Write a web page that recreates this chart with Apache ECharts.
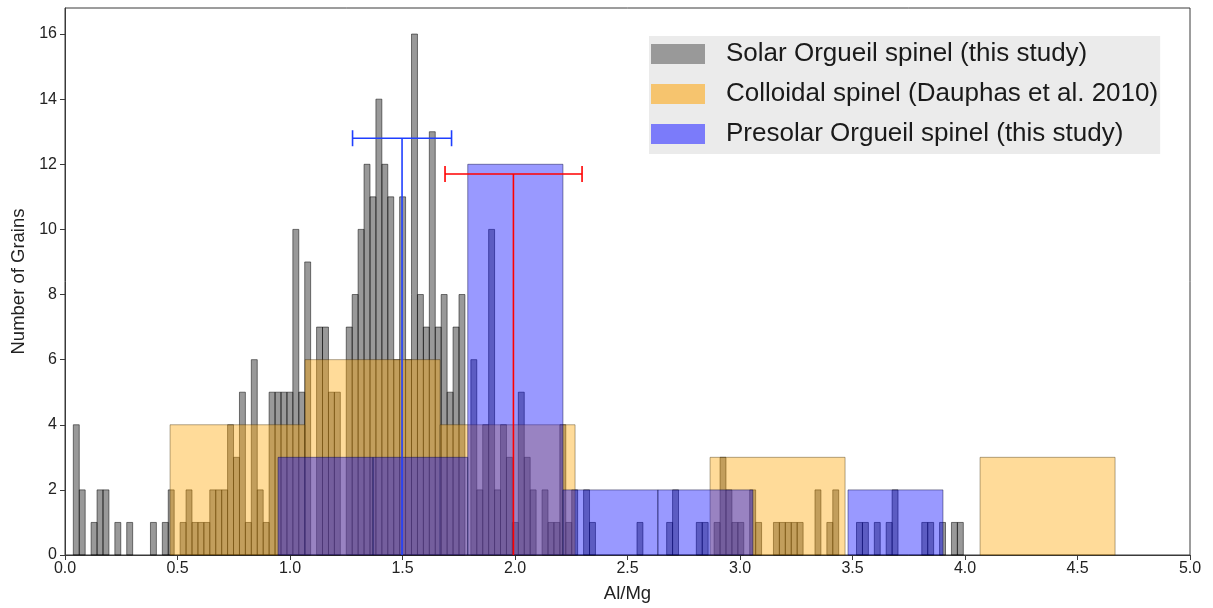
<!DOCTYPE html>
<html>
<head>
<meta charset="utf-8">
<script src="https://cdn.jsdelivr.net/npm/echarts@6/dist/echarts.min.js"></script>
<style>
  html, body { margin: 0; padding: 0; background: #fff; }
  #chart { width: 1213px; height: 608px; }
</style>
</head>
<body>
<div id="chart"></div>
<script>
// solar grains: 150 narrow bins
var grayStart = 0.037;
var grayBinWidth = 0.02637;
var grayCounts = [
  4,2,0,1,2,2,0,1,0,1,
  0,0,0,1,0,1,2,0,1,2,
  1,1,1,2,2,2,4,3,5,1,
  6,2,1,5,5,5,5,10,5,9,
  0,7,7,5,5,0,7,8,10,12,
  11,14,12,11,6,11,6,16,8,7,
  13,7,8,5,7,8,0,6,2,4,
  10,2,4,3,1,5,3,2,0,2,
  1,1,4,1,2,0,2,1,0,0,
  0,0,0,0,0,1,0,0,0,0,
  1,2,0,0,0,1,1,0,1,3,
  2,1,1,0,2,1,0,0,1,1,
  1,1,1,0,0,2,0,1,2,0,
  0,0,1,1,0,1,0,1,2,0,
  0,0,0,1,1,0,1,0,1,1
];

// colloidal spinel (Dauphas et al. 2010)
var orangeEdges = [0.467, 1.067, 1.667, 2.267, 2.867, 3.467, 4.067, 4.667];
var orangeCounts = [4, 6, 4, 0, 3, 0, 3];

// presolar grains
var blueEdges = [0.947, 1.369, 1.79, 2.213, 2.635, 3.057, 3.48, 3.902];
var blueCounts = [3, 3, 12, 2, 2, 0, 2];

// error bars: [mean, low, high, height]
var blueErr = [1.498, 1.278, 1.718, 12.8];
var redErr = [1.993, 1.689, 2.298, 11.7];

var seriesNames = ['Solar Orgueil spinel (this study)', 'Colloidal spinel (Dauphas et al. 2010)', 'Presolar Orgueil spinel (this study)'];

var grayData = [];
for (var i = 0; i < grayCounts.length; i++) {
  if (grayCounts[i] > 0) {
    var a = grayStart + i * grayBinWidth;
    grayData.push([a, a + grayBinWidth, grayCounts[i]]);
  }
}
function fromEdges(edges, counts) {
  var out = [];
  for (var i = 0; i < counts.length; i++) {
    if (counts[i] > 0) out.push([edges[i], edges[i + 1], counts[i]]);
  }
  return out;
}
var orangeData = fromEdges(orangeEdges, orangeCounts);
var blueData = fromEdges(blueEdges, blueCounts);

function binRenderer(fill, stroke) {
  return function (params, api) {
    var p0 = api.coord([api.value(0), api.value(2)]);
    var p1 = api.coord([api.value(1), 0]);
    return {
      type: 'rect',
      shape: { x: p0[0], y: p0[1], width: p1[0] - p0[0], height: p1[1] - p0[1] },
      style: { fill: fill, stroke: stroke, lineWidth: 1 }
    };
  };
}

function errRenderer(color) {
  return function (params, api) {
    var base = api.coord([api.value(0), 0]);
    var top = api.coord([api.value(0), api.value(3)]);
    var lo = api.coord([api.value(1), api.value(3)]);
    var hi = api.coord([api.value(2), api.value(3)]);
    var st = { stroke: color, lineWidth: 1.6 };
    return {
      type: 'group',
      children: [
        { type: 'line', shape: { x1: base[0], y1: base[1], x2: top[0], y2: top[1] }, style: st },
        { type: 'line', shape: { x1: lo[0], y1: lo[1], x2: hi[0], y2: hi[1] }, style: st },
        { type: 'line', shape: { x1: lo[0], y1: lo[1] - 8, x2: lo[0], y2: lo[1] + 8 }, style: st },
        { type: 'line', shape: { x1: hi[0], y1: hi[1] - 8, x2: hi[0], y2: hi[1] + 8 }, style: st }
      ]
    };
  };
}

var chart = echarts.init(document.getElementById('chart'));
var font = "'Liberation Sans', Arial, sans-serif";
var option = {
  animation: false,
  textStyle: { fontFamily: font },
  grid: {
    left: 65, right: 23, top: 8, bottom: 51,
    show: true, borderColor: '#3a3a3a', borderWidth: 1
  },
  legend: {
    orient: 'vertical',
    left: 649, top: 36,
    backgroundColor: '#ebebeb',
    padding: [5, 2, 7, 2],
    itemWidth: 54, itemHeight: 20, itemGap: 14,
    textStyle: { fontSize: 26, lineHeight: 22, color: '#1a1a1a', fontFamily: font, padding: [0, 0, 0, 16] },
    data: [
      { name: seriesNames[0], icon: 'rect', itemStyle: { color: '#999999', borderWidth: 0 } },
      { name: seriesNames[1], icon: 'rect', itemStyle: { color: '#f6c46e', borderWidth: 0 } },
      { name: seriesNames[2], icon: 'rect', itemStyle: { color: '#7b7bfa', borderWidth: 0 } }
    ]
  },
  xAxis: {
    type: 'value', min: 0, max: 5, interval: 0.5,
    name: 'Al/Mg', nameLocation: 'middle', nameGap: 29,
    nameTextStyle: { fontSize: 18.5, color: '#222' },
    axisLine: { show: true, lineStyle: { color: '#3a3a3a' } },
    axisTick: { show: true, length: 5, lineStyle: { color: '#3a3a3a' } },
    axisLabel: { fontSize: 16, color: '#222', margin: 6, formatter: function (v) { return v.toFixed(1); } },
    splitLine: { show: false }
  },
  yAxis: {
    type: 'value', min: 0, max: 16.8, interval: 2,
    name: 'Number of Grains', nameLocation: 'middle', nameGap: 37,
    nameTextStyle: { fontSize: 18.5, color: '#222' },
    axisLine: { show: true, lineStyle: { color: '#3a3a3a' } },
    axisTick: { show: true, length: 5, lineStyle: { color: '#3a3a3a' } },
    axisLabel: { fontSize: 16, color: '#222', margin: 8, showMaxLabel: false },
    splitLine: { show: false }
  },
  series: [
    {
      name: seriesNames[0], type: 'custom', data: grayData,
      encode: { x: [0, 1], y: 2 },
      renderItem: binRenderer('rgba(0,0,0,0.4)', 'rgba(0,0,0,0.5)'),
      itemStyle: { color: '#999999' }
    },
    {
      name: seriesNames[1], type: 'custom', data: orangeData,
      encode: { x: [0, 1], y: 2 },
      renderItem: binRenderer('rgba(255,165,0,0.4)', 'rgba(60,40,0,0.4)'),
      itemStyle: { color: '#f6c46e' }
    },
    {
      name: seriesNames[2], type: 'custom', data: blueData,
      encode: { x: [0, 1], y: 2 },
      renderItem: binRenderer('rgba(0,0,255,0.4)', 'rgba(0,0,60,0.45)'),
      itemStyle: { color: '#7b7bfa' }
    },
    {
      type: 'custom', data: [blueErr], silent: true,
      encode: { x: [0, 1, 2], y: 3 },
      renderItem: errRenderer('#1f3fff'), z: 5
    },
    {
      type: 'custom', data: [redErr], silent: true,
      encode: { x: [0, 1, 2], y: 3 },
      renderItem: errRenderer('#ff0000'), z: 5
    }
  ]
};
chart.setOption(option);
</script>
</body>
</html>
